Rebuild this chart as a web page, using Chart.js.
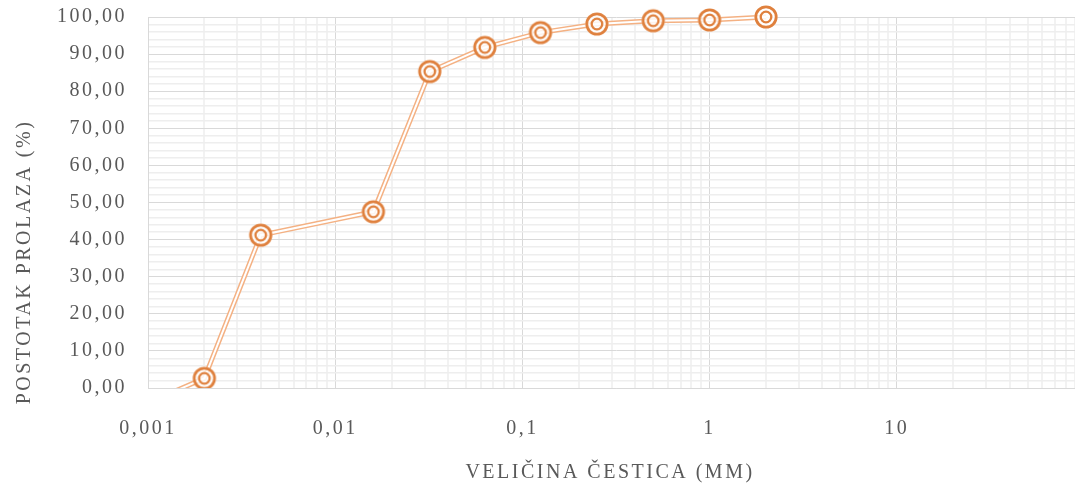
<!DOCTYPE html>
<html>
<head>
<meta charset="utf-8">
<script src="https://cdn.jsdelivr.net/npm/chart.js@4/dist/chart.umd.min.js"></script>
<style>
  html, body { margin: 0; padding: 0; background: #ffffff; overflow: hidden; }
  canvas { display: block; }
</style>
</head>
<body>
<canvas id="grain" width="1096" height="495"></canvas>
<script>
// Granulometric curve: particle size (mm) vs. percentage passing
const particleSizeMm = [0.001, 0.002, 0.004, 0.016, 0.032, 0.063, 0.125, 0.25, 0.5, 1, 2];
const passingPercent = [-4, 2.6, 41.2, 47.5, 85.3, 91.8, 95.8, 98.1, 99.0, 99.2, 100];

const xDecades = [0.001, 0.01, 0.1, 1, 10, 100];
const xTickLabels = ['0,001', '0,01', '0,1', '1', '10', ''];
const yTickLabels = ['0,00', '10,00', '20,00', '30,00', '40,00', '50,00',
                     '60,00', '70,00', '80,00', '90,00', '100,00'];

const xTitle = 'VELIČINA ČESTICA (MM)';
const yTitle = 'POSTOTAK PROLAZA (%)';

const FONT_FAMILY = '"Liberation Serif", "Times New Roman", serif';
const TEXT_COLOR = '#595959';
const LETTER_SPACING = '2.5px';

// log grid: decades plus 2..9 subdivisions
const xGridValues = [];
xDecades.forEach((d, i) => {
  xGridValues.push({ value: d, major: true });
  if (i < xDecades.length - 1) {
    for (let k = 2; k <= 9; k++) {
      xGridValues.push({ value: Number((k * d).toPrecision(6)), major: false });
    }
  }
});

const points = particleSizeMm.map((x, i) => ({ x: x, y: passingPercent[i] }));

// double-ring marker
function makeMarker() {
  const c = document.createElement('canvas');
  c.width = 30; c.height = 30;
  const g = c.getContext('2d');
  g.fillStyle = 'rgba(255,255,255,0.85)';
  g.beginPath(); g.arc(15, 15, 11.5, 0, Math.PI * 2); g.fill();
  g.strokeStyle = '#df803d';
  g.lineWidth = 2.8;
  g.beginPath(); g.arc(15, 15, 10.2, 0, Math.PI * 2); g.stroke();
  g.lineWidth = 2.3;
  g.beginPath(); g.arc(15, 15, 5.3, 0, Math.PI * 2); g.stroke();
  return c;
}
const marker = makeMarker();

const spacingPlugin = {
  id: 'letterSpacing',
  beforeUpdate(chart) { chart.ctx.letterSpacing = LETTER_SPACING; },
  beforeDraw(chart) { chart.ctx.letterSpacing = LETTER_SPACING; }
};

const axisTitles = {
  id: 'axisTitles',
  afterDraw(chart) {
    const ctx = chart.ctx;
    ctx.save();
    ctx.letterSpacing = LETTER_SPACING;
    ctx.font = '20px ' + FONT_FAMILY;
    ctx.fillStyle = TEXT_COLOR;
    ctx.textAlign = 'center';
    ctx.textBaseline = 'alphabetic';
    ctx.fillText(xTitle, 610, 478);
    ctx.translate(30, 262);
    ctx.rotate(-Math.PI / 2);
    ctx.fillText(yTitle, 0, 0);
    ctx.restore();
  }
};

function noScalePadding(scale) {
  scale.paddingTop = 0;
  scale.paddingBottom = 0;
  scale.paddingLeft = 0;
  scale.paddingRight = 0;
}

const clipBox = { left: 0, bottom: 0, top: false, right: false };

new Chart(document.getElementById('grain'), {
  type: 'line',
  data: {
    datasets: [
      {
        data: points,
        borderColor: '#ffffff',
        borderWidth: 2,
        pointStyle: marker,
        pointRadius: 10,
        tension: 0,
        order: 0,
        clip: clipBox
      },
      {
        data: points,
        borderColor: '#f4b183',
        borderWidth: 5,
        pointRadius: 0,
        tension: 0,
        order: 1,
        clip: clipBox
      }
    ]
  },
  options: {
    responsive: false,
    animation: false,
    events: [],
    layout: { padding: { top: 17, right: 2, left: 0, bottom: 0 } },
    plugins: {
      legend: { display: false },
      tooltip: { enabled: false },
      title: { display: false }
    },
    scales: {
      x: {
        type: 'logarithmic',
        position: 'bottom',
        min: 0.001,
        max: 100,
        afterBuildTicks(scale) { scale.ticks = xGridValues.map(t => ({ value: t.value, major: t.major })); },
        afterFit(scale) { scale.height = 107; noScalePadding(scale); },
        ticks: {
          autoSkip: false,
          maxRotation: 0,
          minRotation: 0,
          padding: 29,
          color: TEXT_COLOR,
          font: { family: FONT_FAMILY, size: 20 },
          callback(value) {
            const i = xDecades.findIndex(d => Math.abs(d - value) / d < 1e-6);
            return i >= 0 ? xTickLabels[i] : '';
          }
        },
        grid: {
          drawTicks: false,
          color: (c) => (c.tick && c.tick.major) ? '#d9d9d9' : '#f2f2f2',
          lineWidth: (c) => (c.tick && c.tick.major) ? 1 : 2
        },
        border: { color: '#d9d9d9', width: 1 }
      },
      y: {
        type: 'linear',
        min: 0,
        max: 100,
        afterFit(scale) { scale.width = 148; noScalePadding(scale); },
        ticks: {
          stepSize: 2,
          autoSkip: false,
          padding: 21,
          color: TEXT_COLOR,
          font: { family: FONT_FAMILY, size: 20 },
          callback(value) {
            const r = Math.round(value);
            return (r % 10 === 0) ? yTickLabels[r / 10] : '';
          }
        },
        grid: {
          drawTicks: false,
          color: (c) => (c.tick && Math.round(c.tick.value) % 10 === 0) ? '#d9d9d9' : '#eeeeee',
          lineWidth: (c) => (c.tick && Math.round(c.tick.value) % 10 === 0) ? 1 : 1.5
        },
        border: { color: '#d9d9d9', width: 1 }
      }
    }
  },
  plugins: [spacingPlugin, axisTitles]
});
</script>
</body>
</html>
